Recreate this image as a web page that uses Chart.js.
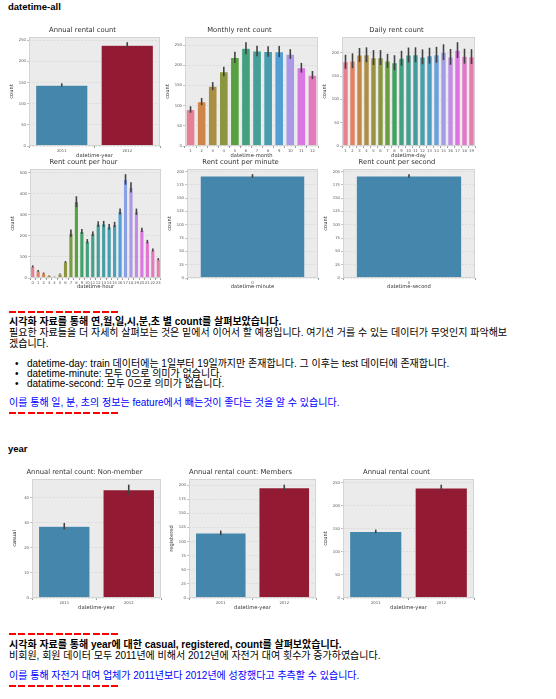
<!DOCTYPE html>
<html>
<head>
<meta charset="utf-8">
<script src="https://cdn.jsdelivr.net/npm/chart.js@4.4.1/dist/chart.umd.min.js"></script>
<style>
  body { margin: 0; background: #fff; font-family: "Liberation Sans", "Noto Sans CJK KR", sans-serif; color: #000; }
  .head { position: absolute; left: 8px; margin: 0; font-size: 9.5px; font-weight: bold; line-height: 11px; }
  .line { position: absolute; left: 9px; font-size: 10px; line-height: 11px; white-space: nowrap; }
  .bold { font-weight: bold; }
  .blue { color: #0000ff; }
  .bullet { left: 27px; }
  .bullet::before { content: "\2022"; position: absolute; left: -12px; }
  .dash { position: absolute; left: 9px; width: 111px; height: 1.5px;
          background: repeating-linear-gradient(90deg, #ff0000 0 7px, transparent 7px 9.3px); }
  canvas { position: absolute; }
</style>
</head>
<body>

<div class="head" style="top:1px">datetime-all</div>

<div class="dash" style="top:311px"></div>
<div class="line bold" style="top:316px">시각화 자료를 통해 연,월,일,시,분,초 별 count를 살펴보았습니다.</div>
<div class="line" style="top:327px">필요한 자료들을 더 자세히 살펴보는 것은 밑에서 이어서 할 예정입니다. 여기선 거를 수 있는 데이터가 무엇인지 파악해보</div>
<div class="line" style="top:338px">겠습니다.</div>
<div class="line bullet" style="top:358px">datetime-day: train 데이터에는 1일부터 19일까지만 존재합니다. 그 이후는 test 데이터에 존재합니다.</div>
<div class="line bullet" style="top:368px">datetime-minute: 모두 0으로 의미가 없습니다.</div>
<div class="line bullet" style="top:378px">datatime-second: 모두 0으로 의미가 없습니다.</div>
<div class="line blue" style="top:397px">이를 통해 일, 분, 초의 정보는 feature에서 빼는것이 좋다는 것을 알 수 있습니다.</div>
<div class="dash" style="top:412px"></div>

<div class="head" style="top:443px">year</div>

<div class="dash" style="top:633px"></div>
<div class="line bold" style="top:639px">시각화 자료를 통해 year에 대한 casual, registered, count를 살펴보았습니다.</div>
<div class="line" style="top:650px">비회원, 회원 데이터 모두 2011년에 비해서 2012년에 자전거 대여 횟수가 증가하였습니다.</div>
<div class="line blue" style="top:670px">이를 통해 자전거 대여 업체가 2011년보다 2012년에 성장했다고 추측할 수 있습니다.</div>
<div class="dash" style="top:685px"></div>

<script>
// 값은 그림에서 읽은 평균과 신뢰구간(±) 추정치
const YEARS = ['2011', '2012'];
const YEAR_COUNT = [144.2, 238.6];
const YEAR_COUNT_ERR = [4, 7];

const MONTHS = ['1', '2', '3', '4', '5', '6', '7', '8', '9', '10', '11', '12'];
const MONTH_COUNT = [90.4, 110.0, 148.2, 184.2, 219.5, 242.0, 235.3, 234.1, 233.8, 227.7, 193.7, 175.6];
const MONTH_COUNT_ERR = [8, 9, 10, 12, 14, 15, 13, 13, 14, 12, 12, 10];

const DAYS = ['1', '2', '3', '4', '5', '6', '7', '8', '9', '10', '11', '12', '13', '14', '15', '16', '17', '18', '19'];
const DAY_COUNT = [181, 183, 195.5, 196, 190, 190, 183, 179, 188.5, 195.5, 196, 191.5, 194, 196, 201.5, 191.5, 206, 193, 192];
const DAY_COUNT_ERR = [15, 16, 15, 16, 16, 16, 15, 16, 16, 16, 16, 16, 17, 17, 17, 17, 17, 16, 16];

const HOURS = ['0', '1', '2', '3', '4', '5', '6', '7', '8', '9', '10', '11', '12', '13', '14', '15', '16', '17', '18', '19', '20', '21', '22', '23'];
const HOUR_COUNT = [55.1, 33.9, 22.9, 11.8, 6.4, 19.8, 76.3, 213.1, 362.8, 221.8, 175.1, 210.7, 256.5, 257.8, 243.4, 254.3, 316.4, 468.8, 430.9, 315.3, 228.5, 173.4, 133.6, 89.5];
const HOUR_COUNT_ERR = [5, 4, 3, 1.5, 0.8, 1.5, 4, 18, 26, 11, 10, 11, 13, 14, 13, 13, 14, 25, 24, 15, 10, 8, 7, 5];

const MINUTES = ['0'];
const MINUTE_COUNT = [191.6];
const MINUTE_COUNT_ERR = [3.4];

const SECONDS = ['0'];
const SECOND_COUNT = [191.6];
const SECOND_COUNT_ERR = [3.4];

const YEAR_CASUAL = [28.7, 43.3];
const YEAR_CASUAL_ERR = [1.3, 2.0];
const YEAR_REGISTERED = [115.4, 195.3];
const YEAR_REGISTERED_ERR = [4, 5.5];

// bmh 스타일 색상 순환
const BMH = ['#348ABD', '#A60628', '#7A68A6', '#467821', '#D55E00', '#CC79A7', '#56B4E9', '#009E73', '#F0E442', '#0072B2'];

// seaborn husl 팔레트 (husl.py 를 그대로 옮김)
const HM = [[3.2406, -1.5372, -0.4986], [-0.9689, 1.8758, 0.0415], [0.0557, -0.2040, 1.0570]];
function maxChroma(L, H) {
    const hrad = H * Math.PI / 180, sinH = Math.sin(hrad), cosH = Math.cos(hrad);
    const sub1 = Math.pow(L + 16, 3) / 1560896;
    const sub2 = sub1 > 0.008856 ? sub1 : L / 903.3;
    let result = Infinity;
    HM.forEach(([m1, m2, m3]) => {
        const top = (0.99915 * m1 + 1.05122 * m2 + 1.14460 * m3) * sub2;
        const rbottom = 0.86330 * m3 - 0.17266 * m2;
        const lbottom = 0.12949 * m3 - 0.38848 * m1;
        const bottom = (rbottom * sinH + lbottom * cosH) * sub2;
        [0, 1].forEach(t => {
            const C = L * (top - 1.05122 * t) / (bottom + 0.17266 * sinH * t);
            if (C > 0 && C < result) result = C;
        });
    });
    return result;
}
function huslToRgb(H, S, L) {
    const C = maxChroma(L, H) / 100 * S;
    const hrad = H * Math.PI / 180;
    const U = Math.cos(hrad) * C, V = Math.sin(hrad) * C;
    const varY = L > 8 ? Math.pow((L + 16) / 116, 3) : L / 903.3;
    const varU = U / (13 * L) + 0.19784;
    const varV = V / (13 * L) + 0.46834;
    const Y = varY;
    const X = -(9 * Y * varU) / ((varU - 4) * varV - varU * varV);
    const Z = (9 * Y - 15 * varV * Y - varV * X) / (3 * varV);
    return HM.map(r => {
        const c = r[0] * X + r[1] * Y + r[2] * Z;
        const v = c <= 0.0031308 ? 12.92 * c : 1.055 * Math.pow(c, 1 / 2.4) - 0.055;
        return Math.min(1, Math.max(0, v));
    });
}
function huslPalette(n) {
    const out = [];
    for (let i = 0; i < n; i++) {
        const h = ((i / n + 0.01) % 1) * 359;
        out.push(huslToRgb(h, 0.9 * 99, 0.65 * 99));
    }
    return out;
}
function hexToRgb(hex) {
    return [1, 3, 5].map(i => parseInt(hex.substr(i, 2), 16) / 255);
}
// colorsys.rgb_to_hls / hls_to_rgb 로 채도를 낮춤
function desaturate([r, g, b], prop) {
    const mx = Math.max(r, g, b), mn = Math.min(r, g, b);
    const l = (mx + mn) / 2;
    if (mx === mn) return [r, g, b];
    let s = l <= 0.5 ? (mx - mn) / (mx + mn) : (mx - mn) / (2 - mx - mn);
    const rc = (mx - r) / (mx - mn), gc = (mx - g) / (mx - mn), bc = (mx - b) / (mx - mn);
    let h = r === mx ? bc - gc : g === mx ? 2 + rc - bc : 4 + gc - rc;
    h = ((h / 6) % 1 + 1) % 1;
    s *= prop;
    const m2 = l <= 0.5 ? l * (1 + s) : l + s - l * s;
    const m1 = 2 * l - m2;
    const v = hue => {
        hue = ((hue % 1) + 1) % 1;
        if (hue < 1 / 6) return m1 + (m2 - m1) * hue * 6;
        if (hue < 0.5) return m2;
        if (hue < 2 / 3) return m1 + (m2 - m1) * (2 / 3 - hue) * 6;
        return m1;
    };
    return [v(h + 1 / 3), v(h), v(h - 1 / 3)];
}
function barColors(n) {
    const base = n > BMH.length ? huslPalette(n) : BMH.slice(0, n).map(hexToRgb);
    return base.map(c => desaturate(c, 0.75))
               .map(c => `rgb(${c.map(x => Math.round(x * 255)).join(',')})`);
}

// 회색 배경 + 테두리
const axesFrame = {
    id: 'axesFrame',
    beforeDraw(chart) {
        const { ctx, chartArea: a } = chart;
        ctx.save();
        ctx.fillStyle = '#ebebeb';
        ctx.fillRect(a.left, a.top, a.width, a.height);
        ctx.restore();
    },
    afterDraw(chart) {
        const { ctx, chartArea: a } = chart;
        ctx.save();
        ctx.strokeStyle = '#d4d4d4';
        ctx.lineWidth = 1;
        ctx.strokeRect(a.left + 0.5, a.top + 0.5, a.width - 1, a.height - 1);
        ctx.restore();
    }
};

// 신뢰구간 막대
const errorBars = {
    id: 'errorBars',
    afterDatasetsDraw(chart, args, opts) {
        const { ctx } = chart;
        const y = chart.scales.y;
        const values = chart.data.datasets[0].data;
        ctx.save();
        ctx.strokeStyle = '#424242';
        ctx.lineWidth = 1.6;
        chart.getDatasetMeta(0).data.forEach((bar, i) => {
            ctx.beginPath();
            ctx.moveTo(bar.x, y.getPixelForValue(values[i] - opts.errors[i]));
            ctx.lineTo(bar.x, y.getPixelForValue(values[i] + opts.errors[i]));
            ctx.stroke();
        });
        ctx.restore();
    }
};

const AX_W = 24, TITLE_H = 12, PAD_R = 2;
const FONT = 'DejaVu Sans';

function makeChart(rect, title, labels, values, errs, yTitle, xTitle, step, xH) {
    const canvas = document.createElement('canvas');
    const w = rect.right - rect.left + AX_W + PAD_R;
    const h = rect.bottom - rect.top + TITLE_H + xH;
    canvas.width = w; canvas.height = h;
    canvas.style.left = (rect.left - AX_W) + 'px';
    canvas.style.top = (rect.top - TITLE_H) + 'px';
    document.body.appendChild(canvas);

    const ymax = Math.max(...values.map((v, i) => v + errs[i])) * 1.05;

    return new Chart(canvas.getContext('2d'), {
        type: 'bar',
        data: {
            labels: labels,
            datasets: [{
                data: values,
                backgroundColor: barColors(values.length),
                borderColor: '#eeeeee',
                borderWidth: 0.6,
                categoryPercentage: 1,
                barPercentage: 0.8
            }]
        },
        options: {
            responsive: false,
            animation: false,
            layout: { padding: { left: 0, right: PAD_R, top: 0, bottom: 0 } },
            plugins: {
                legend: { display: false },
                tooltip: { enabled: false },
                title: {
                    display: true,
                    text: title,
                    color: '#333',
                    font: { family: FONT, size: 6.8, weight: 'normal', lineHeight: 1 },
                    padding: { top: 1.8, bottom: 3.4 }
                },
                errorBars: { errors: errs }
            },
            scales: {
                x: {
                    grid: { drawOnChartArea: false, tickLength: 2, tickColor: '#999' },
                    border: { display: false },
                    ticks: {
                        autoSkip: false, maxRotation: 0, padding: 0.5,
                        color: '#555', font: { family: FONT, size: 3.8 }
                    },
                    title: {
                        display: true, text: xTitle, color: '#333',
                        font: { family: FONT, size: 5.2 }, padding: { top: 0, bottom: 4.9 }
                    },
                    afterFit: s => { s.height = xH; }
                },
                y: {
                    min: 0,
                    max: ymax,
                    grid: { color: '#d2d2d2', lineWidth: 0.6, tickLength: 2, tickColor: '#999' },
                    border: { display: false, dash: [2, 1.5] },
                    ticks: {
                        stepSize: step, includeBounds: false, padding: 1,
                        color: '#555', font: { family: FONT, size: 3.8 }
                    },
                    title: {
                        display: true, text: yTitle, color: '#333',
                        font: { family: FONT, size: 5.2 }, padding: { top: 4, bottom: 0 }
                    },
                    afterFit: s => { s.width = AX_W; }
                }
            }
        },
        plugins: [axesFrame, errorBars]
    });
}

makeChart({ left: 29, right: 160, top: 37, bottom: 146 }, 'Annual rental count',
    YEARS, YEAR_COUNT, YEAR_COUNT_ERR, 'count', 'datetime-year', 50, 18);
makeChart({ left: 185, right: 318, top: 37, bottom: 146 }, 'Monthly rent count',
    MONTHS, MONTH_COUNT, MONTH_COUNT_ERR, 'count', 'datetime-month', 50, 18);
makeChart({ left: 342, right: 475, top: 37, bottom: 146 }, 'Daily rent count',
    DAYS, DAY_COUNT, DAY_COUNT_ERR, 'count', 'datetime-day', 50, 18);

makeChart({ left: 30, right: 161, top: 169, bottom: 278 }, 'Rent count per hour',
    HOURS, HOUR_COUNT, HOUR_COUNT_ERR, 'count', 'datetime-hour', 100, 17);
makeChart({ left: 187, right: 318, top: 169, bottom: 278 }, 'Rent count per minute',
    MINUTES, MINUTE_COUNT, MINUTE_COUNT_ERR, 'count', 'datetime-minute', 25, 17);
makeChart({ left: 343, right: 475, top: 169, bottom: 278 }, 'Rent count per second',
    SECONDS, SECOND_COUNT, SECOND_COUNT_ERR, 'count', 'datetime-second', 25, 17);

makeChart({ left: 32, right: 161, top: 479, bottom: 598 }, 'Annual rental count: Non-member',
    YEARS, YEAR_CASUAL, YEAR_CASUAL_ERR, 'casual', 'datetime-year', 10, 18);
makeChart({ left: 189, right: 316, top: 479, bottom: 598 }, 'Annual rental count: Members',
    YEARS, YEAR_REGISTERED, YEAR_REGISTERED_ERR, 'registered', 'datetime-year', 25, 18);
makeChart({ left: 343, right: 474, top: 479, bottom: 598 }, 'Annual rental count',
    YEARS, YEAR_COUNT, YEAR_COUNT_ERR, 'count', 'datetime-year', 50, 18);
</script>
</body>
</html>
